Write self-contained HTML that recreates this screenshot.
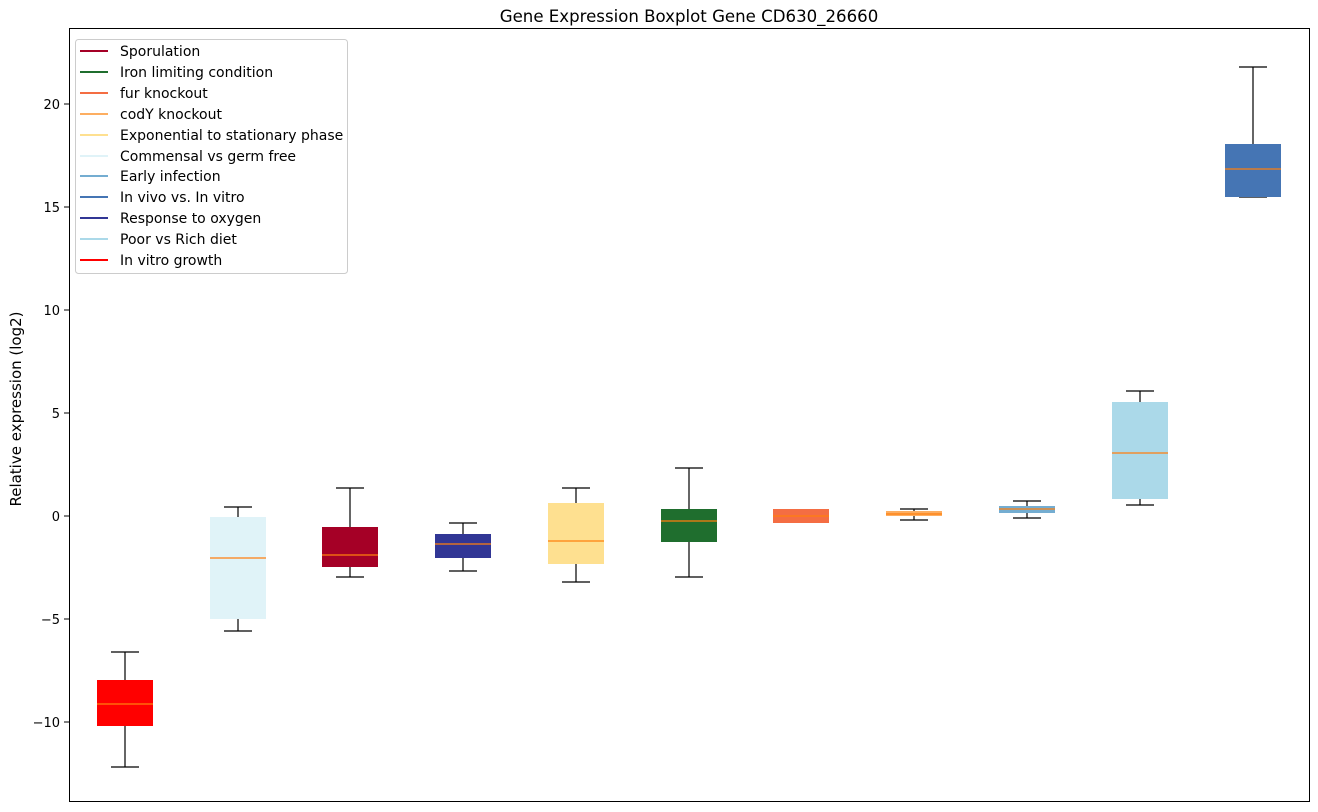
<!DOCTYPE html>
<html><head><meta charset="utf-8"><style>body{margin:0;background:#fff}svg{display:block}text{font-family:"DejaVu Sans","Liberation Sans",sans-serif;fill:#000}</style></head><body>
<svg width="1318" height="812" xmlns="http://www.w3.org/2000/svg">
<text x="689" y="22" font-size="16.6" text-anchor="middle">Gene Expression Boxplot Gene CD630_26660</text>
<g font-size="13" text-anchor="end">
<line x1="64" y1="104" x2="69" y2="104" stroke="#000"/><text x="60" y="109">20</text>
<line x1="64" y1="207" x2="69" y2="207" stroke="#000"/><text x="60" y="212">15</text>
<line x1="64" y1="310" x2="69" y2="310" stroke="#000"/><text x="60" y="315">10</text>
<line x1="64" y1="413" x2="69" y2="413" stroke="#000"/><text x="60" y="418">5</text>
<line x1="64" y1="516" x2="69" y2="516" stroke="#000"/><text x="60" y="521">0</text>
<line x1="64" y1="619" x2="69" y2="619" stroke="#000"/><text x="60" y="624">−5</text>
<line x1="64" y1="722" x2="69" y2="722" stroke="#000"/><text x="60" y="727">−10</text>
</g>
<text transform="translate(21,409) rotate(-90)" font-size="15" text-anchor="middle">Relative expression (log2)</text>
<g stroke="#000" stroke-width="1.2" fill="none">
<path d="M125 652V680M125 726V767M111 652H139M111 767H139"/>
<path d="M238 507V517M238 619V631M224 507H252M224 631H252"/>
<path d="M350 488V527M350 567V577M336 488H364M336 577H364"/>
<path d="M463 523V534M463 558V571M449 523H477M449 571H477"/>
<path d="M576 488V503M576 564V582M562 488H590M562 582H590"/>
<path d="M689 468V509M689 542V577M675 468H703M675 577H703"/>
<path d="M914 509V511M914 516V520M900 509H928M900 520H928"/>
<path d="M1027 501V506M1027 513V518M1013 501H1041M1013 518H1041"/>
<path d="M1140 391V402M1140 499V505M1126 391H1154M1126 505H1154"/>
<path d="M1253 67V144M1239 67H1267M1239 197H1267"/>
</g>
<rect x="97" y="680" width="56" height="46" fill="#ff0000"/>
<rect x="210" y="517" width="56" height="102" fill="#e0f3f8"/>
<rect x="322" y="527" width="56" height="40" fill="#a50026"/>
<rect x="435" y="534" width="56" height="24" fill="#313695"/>
<rect x="548" y="503" width="56" height="61" fill="#fee090"/>
<rect x="661" y="509" width="56" height="33" fill="#1f6e2e"/>
<rect x="773" y="509" width="56" height="14" fill="#f46d43"/>
<rect x="886" y="511" width="56" height="5" fill="#fdae61"/>
<rect x="999" y="506" width="56" height="7" fill="#74add1"/>
<rect x="1112" y="402" width="56" height="97" fill="#abd9e9"/>
<rect x="1225" y="144" width="56" height="53" fill="#4575b4"/>
<g stroke="#ff7f0e" stroke-width="1.2">
<path d="M97 704H153M210 558H266M322 555H378M435 544H491M548 541H604M661 521H717M773 516H829M886 514H942M999 509H1055M1112 453H1168M1225 169H1281"/>
</g>
<rect x="69.5" y="28.5" width="1240" height="773" fill="none" stroke="#000" stroke-width="1"/>
<rect x="75.5" y="39.5" width="272" height="234" rx="3" fill="#fff" fill-opacity="0.8" stroke="#ccc"/>
<g font-size="14" stroke-width="2">
<line x1="80" y1="51" x2="108" y2="51" stroke="#a50026"/><text x="120" y="56">Sporulation</text>
<line x1="80" y1="72" x2="108" y2="72" stroke="#1f6e2e"/><text x="120" y="77">Iron limiting condition</text>
<line x1="80" y1="93" x2="108" y2="93" stroke="#f46d43"/><text x="120" y="98">fur knockout</text>
<line x1="80" y1="114" x2="108" y2="114" stroke="#fdae61"/><text x="120" y="119">codY knockout</text>
<line x1="80" y1="135" x2="108" y2="135" stroke="#fee090"/><text x="120" y="140">Exponential to stationary phase</text>
<line x1="80" y1="156" x2="108" y2="156" stroke="#e0f3f8"/><text x="120" y="161">Commensal vs germ free</text>
<line x1="80" y1="176" x2="108" y2="176" stroke="#74add1"/><text x="120" y="181">Early infection</text>
<line x1="80" y1="197" x2="108" y2="197" stroke="#4575b4"/><text x="120" y="202">In vivo vs. In vitro</text>
<line x1="80" y1="218" x2="108" y2="218" stroke="#313695"/><text x="120" y="223">Response to oxygen</text>
<line x1="80" y1="239" x2="108" y2="239" stroke="#abd9e9"/><text x="120" y="244">Poor vs Rich diet</text>
<line x1="80" y1="260" x2="108" y2="260" stroke="#ff0000"/><text x="120" y="265">In vitro growth</text>
</g>
</svg>
</body></html>
